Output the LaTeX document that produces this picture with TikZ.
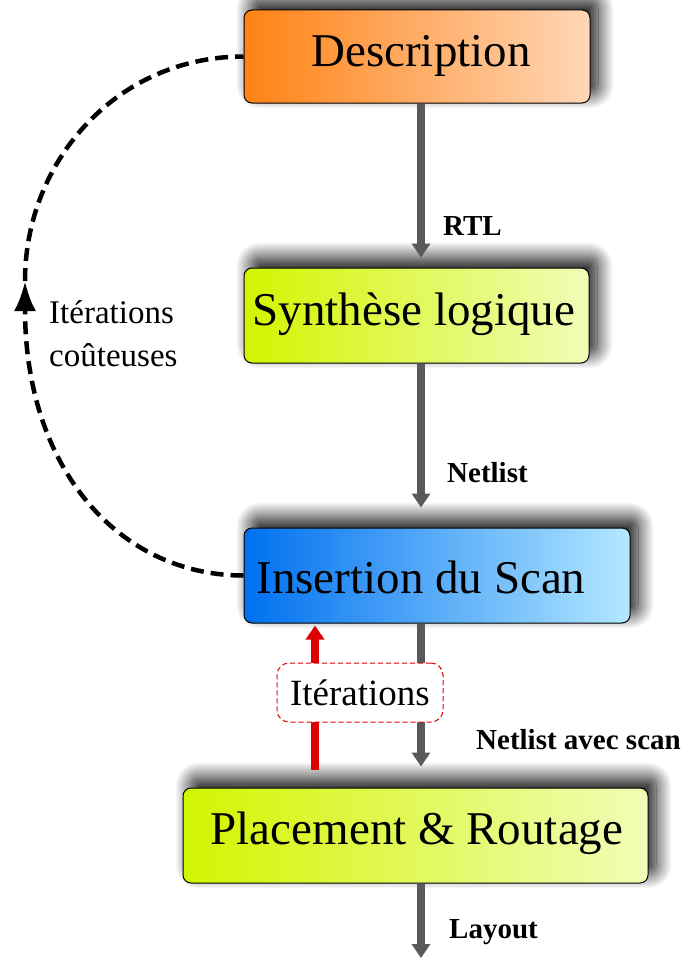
\documentclass[tikz,border=0pt]{standalone}
\usepackage{fontspec}
\setmainfont{Liberation Serif}
\usetikzlibrary{arrows.meta,shadows.blur}
\definecolor{orL}{HTML}{FF8214}
\definecolor{orR}{HTML}{FFD7B8}
\definecolor{grL}{HTML}{D2F500}
\definecolor{grR}{HTML}{F2FCB8}
\definecolor{blL}{HTML}{0070F0}
\definecolor{blR}{HTML}{B3E8FF}
\definecolor{arrgray}{HTML}{595959}
\definecolor{arrred}{HTML}{DD0000}
\begin{document}
\begin{tikzpicture}[x=1pt,y=-1pt,
  box/.style={draw=black, line width=1pt, rounded corners=8pt, inner sep=0pt,
    blur shadow={shadow xshift=8pt, shadow yshift=10pt, shadow blur radius=16pt, shadow blur steps=25, shadow opacity=95}},
  boxtext/.style={font=\fontsize{47}{50}\selectfont, inner sep=0pt},
  garrow/.style={draw=arrgray, line width=8pt, -{Triangle[width=18pt,length=14pt]}},
  rarrow/.style={draw=arrred, line width=8pt, -{Triangle[width=18pt,length=14pt]}},
  flowlabel/.style={font=\bfseries\fontsize{29}{32}\selectfont, anchor=west, inner sep=0pt},
  itbox/.style={draw=arrred, dash pattern=on 5pt off 3pt, line width=1pt, rounded corners=12pt, fill=white,
    minimum width=166pt, minimum height=59pt, inner sep=0pt, font=\fontsize{37}{40}\selectfont},
  loopline/.style={draw=black, line width=4.5pt, dash pattern=on 13pt off 7pt}
]
\useasboundingbox (0,0) rectangle (690,958);

\coordinate (ax) at (421,0);
\coordinate (rx) at (315,0);
\coordinate (bot) at (421,958);

% boxes
\node[box, left color=orL, right color=orR, minimum width=346pt, minimum height=93pt] (desc) at (417,56.5) {};
\node[boxtext] (descT) at (421,56) {Description};
\node[box, left color=grL, right color=grR, minimum width=345pt, minimum height=95pt] (syn) at (416.5,315.5) {};
\node[boxtext] (synT) at (414,314) {Synthèse logique};
\node[box, left color=blL, right color=blR, minimum width=386pt, minimum height=95pt] (ins) at (437,575.5) {};
\node[boxtext] (insT) at (421,577) {Insertion du Scan};
\node[box, left color=grL, right color=grR, minimum width=465pt, minimum height=95pt] (pr) at (415.5,835.5) {};
\node[boxtext] (prT) at (417,833) {Placement \& Routage};

% vertical flow arrows
\draw[garrow, shorten >=10pt] (desc.south -| ax) -- (syn.north -| ax);
\draw[garrow, shorten >=20pt] (syn.south -| ax) -- (ins.north -| ax);
\draw[garrow, shorten >=21pt] (ins.south -| ax) -- (pr.north -| ax);
\draw[garrow] (pr.south -| ax) -- (bot);

% red iteration arrow
\draw[rarrow, shorten <=18pt, shorten >=2pt] (pr.north -| rx) -- (ins.south -| rx);
\node[itbox] (it) at (360,692.5) {Itérations};

% labels
\node[flowlabel] (rtl) at (443,226) {RTL};
\node[flowlabel] (nl) at (447,473) {Netlist};
\node[flowlabel] (nls) at (476,740) {Netlist avec scan};
\node[flowlabel] (lay) at (449,932) {Layout};

% costly loop
\coordinate (lp) at (25,281);
\draw[loopline, -{Latex[length=30pt,width=22pt]}] (ins.west) .. controls (120,575.5) and (25,470) .. (lp);
\draw[loopline] (lp) .. controls (25,160) and (118,56.5) .. (desc.west);
\node[anchor=west, align=left, inner sep=0pt, font=\fontsize{33}{43}\selectfont] (cost) at (49,334) {Itérations\\coûteuses};
\end{tikzpicture}
\end{document}
